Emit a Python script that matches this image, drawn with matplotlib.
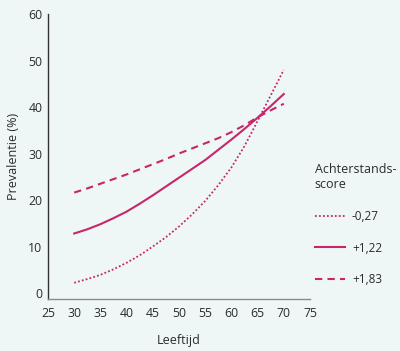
import matplotlib.pyplot as plt

leeftijd = [30, 32.5, 35, 37.5, 40, 42.5, 45, 47.5, 50, 52.5, 55, 57.5, 60, 62.5, 65, 67.5, 70]

score_min027 = [2.2, 3.0, 3.9, 5.1, 6.5, 8.1, 10.0, 12.0, 14.3, 16.9, 19.8, 23.2, 27.0, 31.6, 37.0, 42.5, 48.0]
score_122 = [12.8, 13.7, 14.8, 16.1, 17.5, 19.2, 21.0, 22.9, 24.8, 26.7, 28.6, 30.8, 33.0, 35.3, 37.7, 40.2, 42.8]
score_183 = [21.6, 22.5, 23.5, 24.5, 25.5, 26.6, 27.7, 28.8, 30.0, 31.1, 32.2, 33.3, 34.6, 36.1, 37.8, 39.3, 40.7]

labels = ['-0,27', '+1,22', '+1,83']
kleur = '#c8256b'
achtergrond = '#eef7f6'
tekst = '#2b2b2b'

plt.rcParams['font.family'] = ['Open Sans', 'DejaVu Sans']

fig = plt.figure(figsize=(4, 3.51), dpi=100, facecolor=achtergrond)
ax = fig.add_axes([0.12, 0.148, 0.655, 0.812], facecolor=achtergrond)

ax.plot(leeftijd, score_min027, color=kleur, lw=1.3, linestyle=(0, (1, 1.2)), label=labels[0])
ax.plot(leeftijd, score_122, color=kleur, lw=1.5, linestyle='-', label=labels[1])
ax.plot(leeftijd, score_183, color=kleur, lw=1.5, linestyle=(0, (3.5, 2.5)), label=labels[2])

ax.set_xlim(25, 75)
ax.set_ylim(-1.3, 60)
ax.set_xticks(range(25, 80, 5))
ax.set_yticks(range(0, 70, 10))
ax.tick_params(axis='both', length=0, labelsize=8.8, colors=tekst)
ax.tick_params(axis='y', pad=4)
ax.tick_params(axis='x', pad=6)

ax.spines['top'].set_visible(False)
ax.spines['right'].set_visible(False)
ax.spines['left'].set_color('#333333')
ax.spines['bottom'].set_color('#8a8a8a')
ax.spines['left'].set_linewidth(1.0)
ax.spines['bottom'].set_linewidth(1.0)

ax.set_xlabel('Leeftijd', fontsize=9, color=tekst, labelpad=10)
ax.set_ylabel('Prevalentie (%)', fontsize=9, color=tekst, labelpad=6)

leg = ax.legend(title='Achterstands-\nscore', loc='upper left', bbox_to_anchor=(0.772, 0.553),
                bbox_transform=fig.transFigure, frameon=False, fontsize=8.5,
                title_fontsize=9, handlelength=2.6, handletextpad=0.55,
                labelspacing=1.6, borderpad=0)
leg._legend_box.align = 'left'
leg.get_title().set_color(tekst)
for t in leg.get_texts():
    t.set_color(tekst)

fig.savefig('out.png', dpi=100, facecolor=achtergrond)
